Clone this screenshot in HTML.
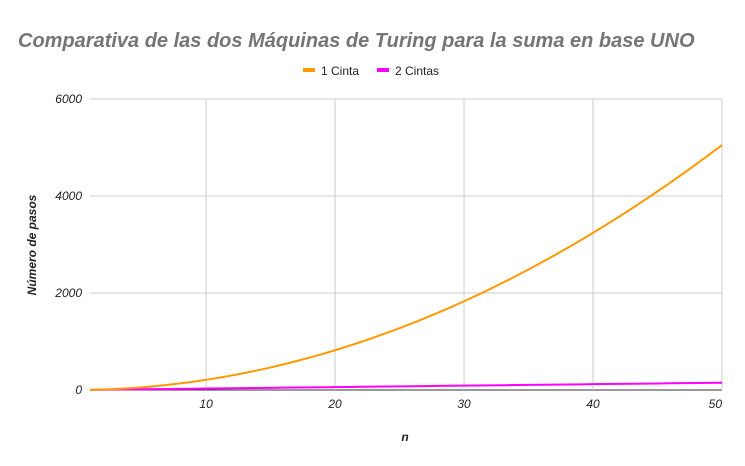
<!DOCTYPE html>
<html><head><meta charset="utf-8"><style>
body{margin:0;background:#fff}
svg{display:block;font-family:"Liberation Sans",sans-serif}
</style></head><body>
<svg id="c" width="745" height="466">
<text x="18" y="47" font-size="20" font-weight="bold" font-style="italic" fill="#757575">Comparativa de las dos Máquinas de Turing para la suma en base UNO</text>
<g>
<rect x="303" y="68" width="12" height="4" fill="#ff9900"/>
<text x="321" y="75" font-size="12" fill="#222">1 Cinta</text>
<rect x="377" y="68" width="12" height="4" fill="#ff00ff"/>
<text x="395" y="75" font-size="12" fill="#222">2 Cintas</text>
</g>
<text transform="translate(36,245) rotate(-90)" text-anchor="middle" font-size="12" font-weight="bold" font-style="italic" fill="#222">Número de pasos</text>
<text x="405" y="441" text-anchor="middle" font-size="12" font-weight="bold" font-style="italic" fill="#222">n</text>
<g id="grid"></g><g id="ticks"></g><g id="series"></g>
</svg>
<script>
const xTicks=[10,20,30,40,50];
const yTicks=[0,2000,4000,6000];
const nValues=[1,2,3,4,5,6,7,8,9,10,11,12,13,14,15,16,17,18,19,20,21,22,23,24,25,26,27,28,29,30,31,32,33,34,35,36,37,38,39,40,41,42,43,44,45,46,47,48,49,50];
const unaCinta=[3,10,21,36,55,78,105,136,171,210,253,300,351,406,465,528,595,666,741,820,903,990,1081,1176,1275,1378,1485,1596,1711,1830,1953,2080,2211,2346,2485,2628,2775,2926,3081,3240,3403,3570,3741,3916,4095,4278,4465,4656,4851,5050];
const dosCintas=[3,6,9,12,15,18,21,24,27,30,33,36,39,42,45,48,51,54,57,60,63,66,69,72,75,78,81,84,87,90,93,96,99,102,105,108,111,114,117,120,123,126,129,132,135,138,141,144,147,150];
const NS='http://www.w3.org/2000/svg';
const X=v=>90+(v-1)*(722-90)/49;
const Y=v=>390-v*(390-99)/6000;
function mk(t,a,p){const e=document.createElementNS(NS,t);for(const k in a)e.setAttribute(k,a[k]);p.appendChild(e);return e;}
const grid=document.getElementById('grid'),ticks=document.getElementById('ticks'),ser=document.getElementById('series');
yTicks.forEach(t=>{
 const l=mk('line',{x1:90,x2:722,y1:Y(t),y2:Y(t),stroke:t===0?'#333':'#ccc','stroke-width':1},grid);
 
 
 const tx=mk('text',{x:82,y:Y(t)+4,'text-anchor':'end','font-size':12,'font-style':'italic',fill:'#222'},ticks);
 tx.textContent=t;
 
 
});
xTicks.forEach(t=>{
 const l=mk('line',{x1:X(t),x2:X(t),y1:99,y2:390,stroke:'#ccc','stroke-width':1},grid);
 
 
 const tx=mk('text',{x:X(t),y:408,'text-anchor':t===50?'end':'middle','font-size':12,'font-style':'italic',fill:'#222'},ticks);
 tx.textContent=t;
 
 
});
function line(vals,col,name){
 const d=vals.map((v,i)=>(i?'L':'M')+X(nValues[i]).toFixed(2)+' '+Y(v).toFixed(2)).join(' ');
 const p=mk('path',{d:d,fill:'none',stroke:col,'stroke-width':2},ser);
 
 
}
line(dosCintas,'#ff00ff','series-2-cintas-line');
line(unaCinta,'#ff9900','series-1-cinta-line');
</script>
</body></html>
